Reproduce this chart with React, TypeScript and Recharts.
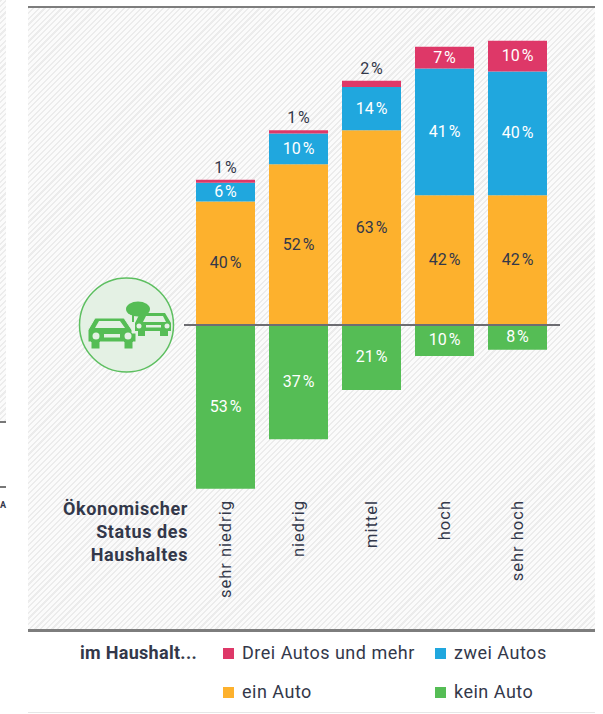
import React from "react";
import { BarChart, Bar, XAxis, YAxis, ReferenceLine, LabelList } from "recharts";

const categories = ["sehr niedrig", "niedrig", "mittel", "hoch", "sehr hoch"];
const keinAuto = [53, 37, 21, 10, 8];
const einAuto = [40, 52, 63, 42, 42];
const zweiAutos = [6, 10, 14, 41, 40];
const dreiAutos = [1, 1, 2, 7, 10];
const statusLines = ["Ökonomischer", "Status des", "Haushaltes"];

const colors = { drei: "#de3868", zwei: "#20a7de", ein: "#fdb12d", kein: "#55bd55" };
const FONT = "Roboto, 'Noto Sans', sans-serif";
const TEXT = "#33384a";

const data = categories.map((c, i) => ({
  category: c,
  kein: -keinAuto[i],
  ein: einAuto[i],
  zwei: zweiAutos[i],
  drei: dreiAutos[i],
}));

const makeLabel = (fill: string) => (p: any) => {
  const v = Math.abs(Number(p.value));
  const x = Number(p.x) + Number(p.width) / 2;
  const y0 = Number(p.y);
  const h = Number(p.height);
  const small = v <= 2;
  return (
    <text
      x={x}
      y={small ? Math.min(y0, y0 + h) - 7 : y0 + h / 2 + 5}
      textAnchor="middle"
      fontFamily={FONT}
      fontSize={16}
      letterSpacing={1}
      fill={small ? TEXT : fill}
    >
      {`${v}\u202f%`}
    </text>
  );
};

const CategoryTick = (p: any) => (
  <text
    transform={`translate(${p.x + 5},${p.y - 1}) rotate(-90)`}
    textAnchor="end"
    fontFamily={FONT}
    fontSize={16.5}
    letterSpacing={1}
    fill={TEXT}
  >
    {p.payload.value}
  </text>
);

const Swatch = ({ x, y, color, label }: { x: number; y: number; color: string; label: string }) => (
  <>
    <div style={{ position: "absolute", left: x, top: y, width: 11, height: 11, background: color }} />
    <div style={{ position: "absolute", left: x + 19, top: y - 6, fontSize: 18, lineHeight: "22px", letterSpacing: 0.5, color: TEXT, whiteSpace: "nowrap" }}>
      {label}
    </div>
  </>
);

const hatch =
  "repeating-linear-gradient(135deg, #ececec 0px, #ececec 1.5px, #fbfbfb 1.5px, #fbfbfb 4px)";

export default function App() {
  return (
    <div style={{ position: "absolute", left: 0, top: 0, width: 603, height: 714, background: "#fff", fontFamily: FONT, overflow: "hidden" }}>
      <div style={{ position: "absolute", left: 0, top: 0, width: 6, height: 421, background: hatch }} />
      <div style={{ position: "absolute", left: 0, top: 421, width: 6, height: 1.5, background: "#777" }} />
      <div style={{ position: "absolute", left: 0, top: 486, width: 6, height: 1.5, background: "#777" }} />
      <div style={{ position: "absolute", left: 0, top: 500, fontSize: 9, fontWeight: 700, color: TEXT }}>A</div>

      <div style={{ position: "absolute", left: 28, top: 7, width: 567, height: 623, background: hatch }} />
      <div style={{ position: "absolute", left: 28, top: 6, width: 567, height: 2, background: "#7d7d7d" }} />
      <div style={{ position: "absolute", left: 28, top: 629, width: 567, height: 2.5, background: "#7d7d7d" }} />
      <div style={{ position: "absolute", left: 28, top: 712, width: 567, height: 1, background: "#e6e6e6" }} />

      <div style={{ position: "absolute", left: 0, top: 0 }}>
        <BarChart
          width={603}
          height={714}
          data={data}
          stackOffset="sign"
          margin={{ top: 7, right: 43, bottom: 84, left: 184 }}
          barSize={59}
        >
          <XAxis
            dataKey="category"
            axisLine={false}
            tickLine={false}
            interval={0}
            height={135}
            padding={{ left: 5, right: 6 }}
            tick={<CategoryTick />}
            tickMargin={0}
          />
          <YAxis hide domain={[-55, 102.9]} allowDataOverflow />
          <Bar dataKey="kein" stackId="a" fill={colors.kein} isAnimationActive={false}>
            <LabelList dataKey="kein" content={makeLabel("#fff")} />
          </Bar>
          <Bar dataKey="ein" stackId="a" fill={colors.ein} isAnimationActive={false}>
            <LabelList dataKey="ein" content={makeLabel(TEXT)} />
          </Bar>
          <Bar dataKey="zwei" stackId="a" fill={colors.zwei} isAnimationActive={false}>
            <LabelList dataKey="zwei" content={makeLabel("#fff")} />
          </Bar>
          <Bar dataKey="drei" stackId="a" fill={colors.drei} isAnimationActive={false}>
            <LabelList dataKey="drei" content={makeLabel("#fff")} />
          </Bar>
          <ReferenceLine y={0} stroke="#6d6d72" strokeWidth={2} />
        </BarChart>
      </div>

      {statusLines.map((t, i) => (
        <div key={t} style={{ position: "absolute", right: 603 - 188, top: 497 + i * 23, fontSize: 18, lineHeight: "23px", fontWeight: 700, letterSpacing: 0.6, color: TEXT, whiteSpace: "nowrap" }}>
          {t}
        </div>
      ))}

      <svg width={603} height={714} style={{ position: "absolute", left: 0, top: 0, pointerEvents: "none" }}>
        <circle cx={126.5} cy={325} r={47} fill="#e4f1e4" stroke="#5dbf60" strokeWidth={1.5} />
        <g fill="#55bd55">
          <ellipse cx={138} cy={309} rx={12} ry={7.5} />
          <rect x={132} y={314} width={2} height={8} />
          {/* small car */}
          <path d="M135 331 v-8 l5 -10 h25 l6 10 v8 h-3 v5 h-8 v-5 h-15 v5 h-7 v-5z" />
          {/* large car */}
          <path d="M88 342 v-12 l7 -12 h29 l8 12 v3 h4 v9 h-3 v7 h-9 v-7 h-24 v7 h-9 v-7z" stroke="#e4f1e4" strokeWidth={1} />
        </g>
        <g fill="#e4f1e4">
          <path d="M143 322 l3 -6 h17 l3 6z" />
          <circle cx={139} cy={326} r={2.5} />
          <circle cx={167} cy={326} r={2.5} />
          <rect x={146} y={325} width={15} height={2.5} />
          <path d="M95 328 l4 -7 h21 l5 7z" />
          <circle cx={96} cy={336} r={3.5} />
          <circle cx={128} cy={336} r={3.5} />
          <rect x={104} y={334} width={16} height={3.5} />
        </g>
      </svg>

      <div style={{ position: "absolute", left: 80, top: 642, fontSize: 18, lineHeight: "22px", fontWeight: 700, letterSpacing: 0.3, color: TEXT, whiteSpace: "nowrap" }}>
        im Haushalt...
      </div>
      <Swatch x={223} y={648} color={colors.drei} label="Drei Autos und mehr" />
      <Swatch x={435} y={648} color={colors.zwei} label="zwei Autos" />
      <Swatch x={223} y={687} color={colors.ein} label="ein Auto" />
      <Swatch x={435} y={687} color={colors.kein} label="kein Auto" />
    </div>
  );
}
